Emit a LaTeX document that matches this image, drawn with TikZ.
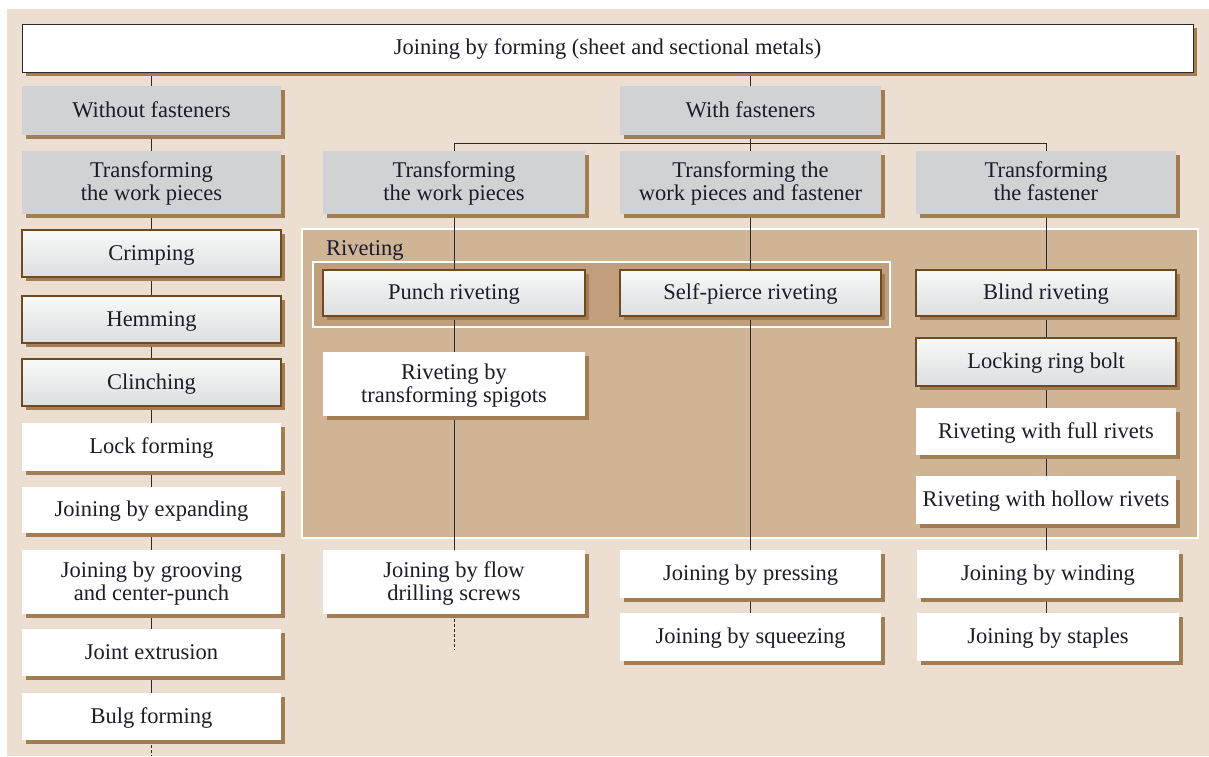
\documentclass[tikz,border=0pt]{standalone}
\usepackage{fontspec}
\setmainfont{Liberation Serif}
\usetikzlibrary{shadows}
\definecolor{bgc}{HTML}{ECDFD2}
\definecolor{rivc}{HTML}{CFB496}
\definecolor{rivin}{HTML}{C19F7C}
\definecolor{shc}{HTML}{A27C53}
\definecolor{grayc}{HTML}{D1D2D4}
\definecolor{gtop}{HTML}{F8F9F9}
\definecolor{gbot}{HTML}{DCDEDF}
\definecolor{bordc}{HTML}{6E4A22}
\definecolor{txt}{HTML}{1C1C2A}
\definecolor{linec}{HTML}{2A2A2A}
\pgfdeclarelayer{bg}
\pgfdeclarelayer{lines}
\pgfsetlayers{bg,lines,main}
\newcommand\mystrut{\rule[-5pt]{0pt}{23pt}}
\newcommand\bx[7]{\node[#6, minimum width={(#4-#2)*1pt}, minimum height={(#5-#3)*1pt}] (#1) at ({(#2+#4)/2},{(#3+#5)/2}) {\mystrut#7\mystrut};}
\tikzset{
  base/.style={rectangle, inner sep=0pt, outer sep=0pt, font=\fontsize{22.5}{23}\selectfont, text=txt, align=center,
    drop shadow={shadow xshift=4pt, shadow yshift=-4pt, fill=shc, opacity=1}},
  graybox/.style={base, fill=grayc},
  gradbox/.style={base, top color=gtop, bottom color=gbot, draw=bordc, line width=1.1pt},
  whitebox/.style={base, fill=white},
  topbox/.style={base, fill=white, draw=linec, line width=1pt},
  conn/.style={draw=linec, line width=0.9pt},
}
\begin{document}
\begin{tikzpicture}[x=1pt,y=-1pt]
\useasboundingbox (0,0) rectangle (1209,756);
\begin{pgfonlayer}{bg}
  \fill[white] (0,0) rectangle (1209,756);
  \fill[bgc] (7,9) rectangle (1209,756);
  \draw[fill=rivc, draw=white, line width=2pt] (302,229) rectangle (1198,538);
  \draw[fill=rivin, draw=white, line width=1.2pt] (313,262) rectangle (890,327);
\end{pgfonlayer}
\node[anchor=base west, inner sep=0pt, font=\fontsize{22.5}{23}\selectfont, text=txt] (rivlab) at (326,255) {Riveting};
% top
\bx{top}{22}{24}{1193}{72}{topbox}{Joining by forming (sheet and sectional metals)}
% left column
\bx{wo}{22}{86}{281}{135}{graybox}{Without fasteners}
\bx{twl}{22}{151}{281}{214}{graybox}{Transforming\\the work pieces}
\bx{crimp}{22}{230}{281}{277}{gradbox}{Crimping}
\bx{hem}{22}{296}{281}{343}{gradbox}{Hemming}
\bx{clinch}{22}{359}{281}{406}{gradbox}{Clinching}
\bx{lock}{22}{423}{281}{471}{whitebox}{Lock forming}
\bx{expand}{22}{487}{281}{533}{whitebox}{Joining by expanding}
\bx{groove}{22}{550}{281}{614}{whitebox}{Joining by grooving\\and center-punch}
\bx{extr}{22}{629}{281}{676}{whitebox}{Joint extrusion}
\bx{bulg}{22}{693}{281}{740}{whitebox}{Bulg forming}
\coordinate (bulgend) at (151.5,756);
% middle column 1
\bx{twm}{323}{151}{585}{214}{graybox}{Transforming\\the work pieces}
\bx{punch}{323}{270}{585}{316}{gradbox}{Punch riveting}
\bx{spig}{323}{352}{585}{416}{whitebox}{Riveting by\\transforming spigots}
\bx{flow}{323}{550}{585}{614}{whitebox}{Joining by flow\\drilling screws}
\coordinate (flowend) at (454,650);
% middle column 2
\bx{with}{620}{86}{881}{135}{graybox}{With fasteners}
\bx{twf}{620}{151}{881}{214}{graybox}{Transforming the\\work pieces and fastener}
\bx{self}{620}{270}{881}{316}{gradbox}{Self-pierce riveting}
\bx{press}{620}{550}{881}{598}{whitebox}{Joining by pressing}
\bx{squeeze}{620}{613}{881}{661}{whitebox}{Joining by squeezing}
% right column
\bx{tf}{916}{151}{1176}{214}{graybox}{Transforming\\the fastener}
\bx{blind}{916}{270}{1176}{316}{gradbox}{Blind riveting}
\bx{lockring}{916}{338}{1176}{386}{gradbox}{Locking ring bolt}
\bx{full}{916}{408}{1176}{455}{whitebox}{Riveting with full rivets}
\bx{hollow}{916}{476}{1176}{524}{whitebox}{Riveting with hollow rivets}
\bx{wind}{917}{550}{1179}{598}{whitebox}{Joining by winding}
\bx{staples}{917}{613}{1179}{661}{whitebox}{Joining by staples}
\coordinate (hb) at (750,143);
\begin{pgfonlayer}{lines}
  \draw[conn] (top.south -| wo.north) -- (wo) -- (twl) -- (crimp) -- (hem) -- (clinch) -- (lock) -- (expand) -- (groove) -- (extr) -- (bulg);
  \draw[conn, densely dashed] (bulg.south) -- (bulgend);
  \draw[conn] (top.south -| with.north) -- (with) -- (twf) -- (self) -- (press) -- (squeeze);
  \draw[conn] (twm) -- (twm |- hb) -- (tf |- hb) -- (tf);
  \draw[conn] (twm) -- (punch) -- (spig) -- (flow);
  \draw[conn, densely dashed] (flow.south) -- (flowend);
  \draw[conn] (tf) -- (blind) -- (lockring) -- (full) -- (hollow) -- (tf |- wind.north);
  \draw[conn] (tf |- wind.south) -- (tf |- staples.north);
\end{pgfonlayer}
\end{tikzpicture}
\end{document}
